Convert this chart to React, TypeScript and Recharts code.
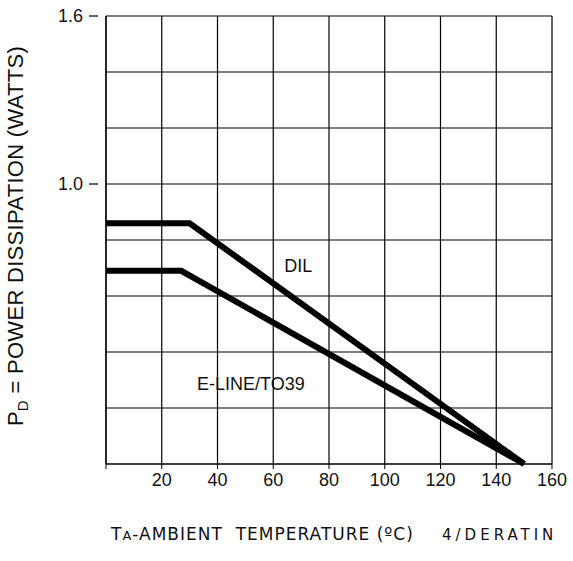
import React from 'react';
import { LineChart, Line, XAxis, YAxis, CartesianGrid, ReferenceDot } from 'recharts';

const tempTicks = [0, 20, 40, 60, 80, 100, 120, 140, 160];
const powerTicks = [0, 0.2, 0.4, 0.6, 0.8, 1.0, 1.2, 1.4, 1.6];
const labelledPower = [1.0, 1.6];

const dilCurve = [
  { t: 0, p: 0.86 },
  { t: 30, p: 0.86 },
  { t: 150, p: 0 },
];

const eLineCurve = [
  { t: 0, p: 0.69 },
  { t: 27, p: 0.69 },
  { t: 150, p: 0 },
];

const FONT = '"Liberation Sans", Arial, sans-serif';

// only 1.0 and 1.6 get a tick mark + label on the left
const PowerTick = (props: any) => {
  const { x, y, payload } = props;
  const v = Number(payload.value);
  if (!labelledPower.some(l => Math.abs(l - v) < 1e-6)) return <g />;
  return (
    <g>
      <line x1={x - 9} y1={y} x2={x} y2={y} stroke="#000" strokeWidth={1.2} />
      <text x={x - 15} y={y} dy={6} textAnchor="end" fontSize={18} fill="#111" fontFamily={FONT}>
        {v.toFixed(1)}
      </text>
    </g>
  );
};

export default function App() {
  return (
    <div style={{ position: 'absolute', left: 0, top: 0, width: 573, height: 561, background: '#fff', overflow: 'hidden' }}>
      <LineChart
        width={573}
        height={561}
        margin={{ top: 16, right: 21, bottom: 67, left: 56 }}
      >
        <CartesianGrid
          stroke="#000"
          strokeWidth={1.2}
          horizontalValues={powerTicks}
          verticalValues={tempTicks}
        />
        <XAxis
          type="number"
          dataKey="t"
          domain={[0, 160]}
          ticks={tempTicks}
          tickFormatter={v => (v === 0 ? '' : String(v))}
          axisLine={{ stroke: '#000', strokeWidth: 1.2 }}
          tickLine={{ stroke: '#000' }}
          tickSize={5}
          tick={{ fontSize: 18, fill: '#111', fontFamily: FONT }}
          tickMargin={4}
          height={30}
        />
        <YAxis
          type="number"
          dataKey="p"
          domain={[0, 1.6]}
          ticks={powerTicks}
          width={50}
          axisLine={{ stroke: '#000', strokeWidth: 1.2 }}
          tickLine={false}
          tick={<PowerTick />}
        />
        <Line
          data={dilCurve}
          dataKey="p"
          type="linear"
          stroke="#000"
          strokeWidth={6}
          dot={false}
          isAnimationActive={false}
        />
        <Line
          data={eLineCurve}
          dataKey="p"
          type="linear"
          stroke="#000"
          strokeWidth={6}
          dot={false}
          isAnimationActive={false}
        />
        <ReferenceDot
          x={69}
          y={0.71}
          r={0}
          label={{ value: 'DIL', fontSize: 18, fill: '#111', fontFamily: FONT, position: 'center' }}
        />
        <ReferenceDot
          x={52}
          y={0.288}
          r={0}
          label={{ value: 'E-LINE/TO39', fontSize: 18, fill: '#111', fontFamily: FONT, position: 'center' }}
        />
      </LineChart>

      <div
        style={{
          position: 'absolute',
          left: 17,
          top: 236,
          transform: 'translate(-50%, -50%) rotate(-90deg)',
          whiteSpace: 'nowrap',
          fontFamily: FONT,
          fontSize: 22,
          letterSpacing: 0.3,
          color: '#111',
        }}
      >
        P<sub style={{ fontSize: 15 }}>D</sub> = POWER DISSIPATION (WATTS)
      </div>

      <div
        style={{
          position: 'absolute',
          left: 111,
          top: 524,
          whiteSpace: 'nowrap',
          fontFamily: '"DejaVu Sans", sans-serif',
          fontSize: 17,
          letterSpacing: 1,
          color: '#111',
        }}
      >
        T<span style={{ fontSize: 13 }}>A</span>-AMBIENT&nbsp; TEMPERATURE (ºC)
      </div>

      <div
        style={{
          position: 'absolute',
          left: 442,
          top: 526,
          whiteSpace: 'nowrap',
          fontFamily: '"DejaVu Sans", sans-serif',
          fontSize: 15,
          letterSpacing: 4,
          color: '#111',
        }}
      >
        4/DERATIN
      </div>
    </div>
  );
}
